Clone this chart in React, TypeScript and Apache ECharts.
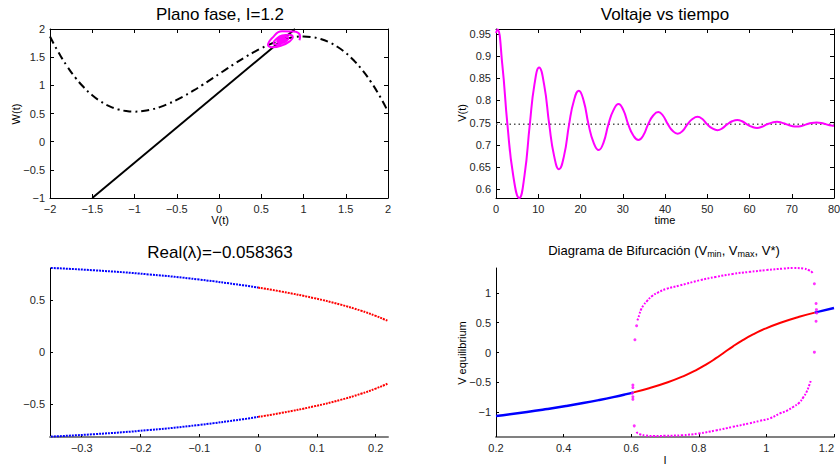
import React, { useEffect, useRef } from 'react';
import * as echarts from 'echarts';

const FONT = '"Liberation Sans", Arial, Helvetica, sans-serif';
const MAGENTA = '#ff00ff';
const BLUE = '#0000ff';
const RED = '#ff0000';

// ---------- Panel 1: phase plane (V, W) ----------
const cubicV = [-2, -1.9, -1.8, -1.7, -1.6, -1.5, -1.4, -1.3, -1.2, -1.1, -1.0, -0.9, -0.8, -0.7, -0.6, -0.5, -0.4, -0.3, -0.2, -0.1, 0, 0.1, 0.2, 0.3, 0.4, 0.5, 0.6, 0.7, 0.8, 0.9, 1.0, 1.1, 1.2, 1.3, 1.4, 1.5, 1.6, 1.7, 1.8, 1.9, 2.0];
const cubicW = [1.867, 1.586, 1.344, 1.138, 0.965, 0.825, 0.715, 0.632, 0.576, 0.544, 0.533, 0.543, 0.571, 0.614, 0.672, 0.742, 0.821, 0.909, 1.003, 1.100, 1.200, 1.300, 1.397, 1.491, 1.579, 1.658, 1.728, 1.786, 1.829, 1.857, 1.867, 1.856, 1.824, 1.768, 1.685, 1.575, 1.435, 1.262, 1.056, 0.814, 0.533];
const wNullV = [-1.5, 0.9];
const wNullW = [-1.0, 2.0];

// ---------- Trajectory (shared by panel 1 and panel 2) ----------
const tVals = [0, 0.35, 1.5, 2.7, 4.1, 5.5, 6.75, 8.0, 9.1, 10.2, 11.4, 12.6, 13.75, 14.9, 16.1, 17.3, 18.45, 19.6, 20.75, 21.9, 23.1, 24.3, 25.45, 26.6, 27.8, 29.0, 30.15, 31.3, 32.5, 33.7, 34.85, 36.0, 37.2, 38.4, 39.5, 40.7, 41.85, 43.0, 44.15, 45.3, 46.5, 47.7, 48.85, 50.0, 51.2, 52.4, 53.55, 54.7, 55.9, 57.1, 58.25, 59.4, 60.6, 61.8, 62.9, 64.1, 65.3, 66.5, 67.6, 68.8, 70.0, 71.2, 72.3, 73.5, 74.7, 75.9, 77.0, 78.2, 79.4, 80];
const vVals = [0.952, 0.960, 0.88, 0.746, 0.629, 0.580, 0.631, 0.746, 0.836, 0.874, 0.835, 0.746, 0.675, 0.645, 0.675, 0.746, 0.800, 0.822, 0.799, 0.746, 0.705, 0.688, 0.705, 0.746, 0.778, 0.792, 0.778, 0.746, 0.721, 0.711, 0.721, 0.746, 0.766, 0.774, 0.766, 0.746, 0.731, 0.725, 0.731, 0.746, 0.758, 0.763, 0.758, 0.746, 0.737, 0.733, 0.737, 0.746, 0.753, 0.756, 0.753, 0.746, 0.7405, 0.738, 0.7405, 0.746, 0.750, 0.752, 0.750, 0.746, 0.7425, 0.741, 0.7425, 0.746, 0.749, 0.750, 0.749, 0.746, 0.7435, 0.743];
const wVals = [1.800, 1.865, 1.955, 1.960, 1.840, 1.715, 1.677, 1.710, 1.781, 1.852, 1.898, 1.885, 1.820, 1.756, 1.727, 1.749, 1.793, 1.837, 1.863, 1.853, 1.816, 1.779, 1.762, 1.773, 1.800, 1.826, 1.842, 1.835, 1.813, 1.791, 1.781, 1.787, 1.803, 1.819, 1.829, 1.824, 1.811, 1.798, 1.791, 1.795, 1.805, 1.815, 1.821, 1.818, 1.810, 1.802, 1.798, 1.800, 1.806, 1.812, 1.815, 1.814, 1.809, 1.804, 1.802, 1.803, 1.807, 1.810, 1.812, 1.812, 1.808, 1.805, 1.804, 1.805, 1.807, 1.809, 1.811, 1.810, 1.808, 1.806];
const vStar = 0.7465;

// ---------- Panel 3: eigenvalues (Re, Im) ----------
const eigReBlue = [-0.3524, -0.28, -0.185, -0.10, -0.025, 0];
const eigImBlue = [0.8105, 0.7884, 0.7479, 0.6989, 0.6433, 0.6216];
const eigReRed = [0, 0.04, 0.095, 0.14, 0.175, 0.2, 0.215, 0.22];
const eigImRed = [0.6216, 0.5831, 0.5206, 0.4583, 0.3997, 0.3499, 0.3152, 0.3033];

// ---------- Panel 4: bifurcation diagram ----------
const eqBlue1I = [0.2, 0.2917, 0.3517, 0.407, 0.4578, 0.5043, 0.5469, 0.5857, 0.607];
const eqBlue1V = [-1.068, -1.0, -0.95, -0.9, -0.85, -0.8, -0.75, -0.7, -0.67];
const eqRedI = [0.607, 0.653, 0.7083, 0.7537, 0.791, 0.8223, 0.8497, 0.875, 0.9003, 0.9277, 0.959, 0.9963, 1.0417, 1.097, 1.143];
const eqRedV = [-0.67, -0.6, -0.5, -0.4, -0.3, -0.2, -0.1, 0, 0.1, 0.2, 0.3, 0.4, 0.5, 0.6, 0.67];
const eqBlue2I = [1.143, 1.1643, 1.2];
const eqBlue2V = [0.67, 0.7, 0.747];
const vmaxI = [0.618, 0.621, 0.624, 0.629, 0.636, 0.646, 0.661, 0.680, 0.705, 0.744, 0.804, 0.85, 0.9, 0.95, 1.0, 1.05, 1.08, 1.11, 1.125, 1.133, 1.137];
const vmaxV = [0.54, 0.58, 0.637, 0.72, 0.79, 0.86, 0.946, 1.01, 1.07, 1.127, 1.216, 1.27, 1.32, 1.355, 1.385, 1.41, 1.42, 1.41, 1.385, 1.36, 1.33];
const vminI = [0.616, 0.62, 0.628, 0.642, 0.667, 0.7, 0.75, 0.8, 0.85, 0.9, 0.95, 0.98, 1.01, 1.04, 1.06, 1.08, 1.097, 1.109, 1.119, 1.127, 1.131];
const vminV = [-1.334, -1.362, -1.378, -1.395, -1.405, -1.40, -1.39, -1.36, -1.31, -1.25, -1.19, -1.149, -1.108, -1.024, -0.98, -0.912, -0.845, -0.754, -0.66, -0.546, -0.478];
const magDotI = [0.605, 0.605, 0.603, 0.605, 0.605, 0.611, 0.616, 0.609, 1.142, 1.147, 1.148, 1.149, 1.147, 1.142];
const magDotV = [-0.546, -0.59, -0.686, -0.743, -0.787, 0.215, 0.45, -1.233, 1.155, 0.823, 0.72, 0.665, 0.524, 0.006];

// ---------- Tick labels ----------
const trY = [0.6, 0.65, 0.7, 0.75, 0.8, 0.85, 0.9, 0.95];
const blX = [-0.3, -0.2, -0.1, 0, 0.1, 0.2];
const blY = [-0.5, 0, 0.5];
const brY = [-1, -0.5, 0, 0.5, 1];

const pairs = (xs: number[], ys: number[]) => xs.map((x, i) => [x, ys[i]]);
const neg = (ys: number[]) => ys.map((y) => -y);
const fmt = (v: number) => String(v).replace('-', '\u2212');

const label = { fontFamily: FONT, fontSize: 11, color: '#262626', formatter: fmt };

function axis(gridIndex: number, position: string, min: number, max: number, opts: any = {}) {
  const {
    interval, custom, showLabel = true, lineColor = '#000', lineWidth = 1, tickLen = 4, margin = 5, alignMax,
  } = opts;
  const a: any = {
    gridIndex, type: 'value', position, min, max,
    axisLine: { show: true, onZero: false, lineStyle: { color: lineColor, width: lineWidth } },
    axisTick: { show: true, inside: true, length: tickLen, lineStyle: { color: '#000', width: 1 } },
    axisLabel: { ...label, show: showLabel, margin, showMinLabel: true, showMaxLabel: true },
    splitLine: { show: false },
  };
  if (alignMax) a.axisLabel.alignMaxLabel = alignMax;
  if (interval !== undefined) a.interval = interval;
  if (custom) {
    a.axisTick.customValues = custom;
    a.axisLabel.customValues = custom;
  }
  return a;
}

function line(xi: number, yi: number, data: number[][], color: string, width: number, extra: any = {}) {
  return {
    type: 'line', xAxisIndex: xi, yAxisIndex: yi, data, showSymbol: false, symbol: 'none',
    lineStyle: { color, width, ...(extra.lineStyle || {}) },
    smooth: extra.smooth ?? false, silent: true, z: extra.z ?? 2,
  };
}

function txt(x: number, y: number, text: string, fontSize: number, rotation = 0, extra: any = {}) {
  return {
    type: 'text', x, y, rotation, silent: true,
    style: {
      text, fontFamily: FONT, fontSize, fill: '#000',
      align: 'center', verticalAlign: 'middle', textAlign: 'center', textVerticalAlign: 'middle',
      ...extra,
    },
  };
}

export default function App() {
  const ref = useRef<HTMLDivElement>(null);
  useEffect(() => {
    if (!ref.current) return;
    const chart = echarts.init(ref.current, null, { renderer: 'svg' });
    const grid = (left: number, top: number) => ({
      left, top, width: 338, height: 169, containLabel: false, outerBoundsMode: 'none', show: false,
    });
    chart.setOption({
      animation: false,
      backgroundColor: '#ffffff',
      grid: [grid(50, 29), grid(496, 29), grid(50, 268), grid(496, 268)],
      xAxis: [
        axis(0, 'bottom', -2, 2, { interval: 0.5 }),
        axis(0, 'top', -2, 2, { interval: 0.5, showLabel: false }),
        axis(1, 'bottom', 0, 80, { interval: 10 }),
        axis(1, 'top', 0, 80, { interval: 10, showLabel: false }),
        axis(2, 'bottom', -0.354, 0.221, { custom: blX, lineColor: '#808080', lineWidth: 2, tickLen: 3 }),
        axis(3, 'bottom', 0.2, 1.2, { interval: 0.2, lineColor: '#808080', lineWidth: 2, tickLen: 3, alignMax: 'right' }),
      ],
      yAxis: [
        axis(0, 'left', -1, 2, { interval: 0.5 }),
        axis(0, 'right', -1, 2, { interval: 0.5, showLabel: false }),
        axis(1, 'left', 0.58, 0.961, { custom: trY }),
        axis(1, 'right', 0.58, 0.961, { custom: trY, showLabel: false }),
        axis(2, 'left', -0.815, 0.81, { custom: blY, tickLen: 3 }),
        axis(3, 'left', -1.42, 1.42, { custom: brY, tickLen: 3 }),
      ],
      series: [
        // Panel 1
        line(0, 0, pairs(cubicV, cubicW), '#000', 2, { smooth: true, lineStyle: { type: [8, 4, 2, 4] } }),
        line(0, 0, pairs(wNullV, wNullW), '#000', 2),
        line(0, 0, pairs(vVals, wVals), MAGENTA, 2, { smooth: 0.5, z: 3 }),
        // Panel 2
        line(2, 2, [[0, vStar], [80, vStar]], '#555555', 1.5, { lineStyle: { type: [1.5, 3] } }),
        line(2, 2, pairs(tVals, vVals), MAGENTA, 2, { smooth: 0.5, z: 3 }),
        // Panel 3
        line(4, 4, pairs(eigReBlue, eigImBlue), BLUE, 2, { smooth: true, lineStyle: { type: [2, 1] } }),
        line(4, 4, pairs(eigReBlue, neg(eigImBlue)), BLUE, 2, { smooth: true, lineStyle: { type: [2, 1] } }),
        line(4, 4, pairs(eigReRed, eigImRed), RED, 2, { smooth: true, lineStyle: { type: [2, 1] } }),
        line(4, 4, pairs(eigReRed, neg(eigImRed)), RED, 2, { smooth: true, lineStyle: { type: [2, 1] } }),
        // Panel 4
        line(5, 5, pairs(eqBlue1I, eqBlue1V), BLUE, 2.5, { smooth: true }),
        line(5, 5, pairs(eqRedI, eqRedV), RED, 2, { smooth: true }),
        line(5, 5, pairs(eqBlue2I, eqBlue2V), BLUE, 2.5, { smooth: true }),
        line(5, 5, pairs(vmaxI, vmaxV), MAGENTA, 2, { smooth: true, z: 3, lineStyle: { type: [2, 1.5] } }),
        line(5, 5, pairs(vminI, vminV), MAGENTA, 2, { smooth: true, z: 3, lineStyle: { type: [2, 1.5] } }),
        {
          type: 'scatter', xAxisIndex: 5, yAxisIndex: 5, data: pairs(magDotI, magDotV),
          symbolSize: 3, itemStyle: { color: MAGENTA }, silent: true, z: 4,
        },
      ],
      graphic: [
        txt(220, 14, 'Plano fase, I=1.2', 17),
        txt(665, 14, 'Voltaje vs tiempo', 17),
        txt(220, 252, 'Real(\u03bb)=\u22120.058363', 17),
        txt(664, 250, 'Diagrama de Bifurcación (V{s|min}, V{s|max}, V*)', 13, 0, {
          rich: { s: { fontFamily: FONT, fontSize: 9, fill: '#000', padding: [7, 0, 0, 0] } },
        }),
        txt(220, 220, 'V(t)', 11),
        txt(16, 114, 'W(t)', 11, Math.PI / 2),
        txt(665, 220, 'time', 11),
        txt(462, 113, 'V(t)', 11, Math.PI / 2),
        txt(462, 353, 'V equilibrium', 11, Math.PI / 2),
        txt(665, 460, 'I', 11),
      ],
    });
    return () => chart.dispose();
  }, []);
  return <div ref={ref} style={{ position: 'absolute', left: 0, top: 0, width: 840, height: 465, background: '#fff' }} />;
}
